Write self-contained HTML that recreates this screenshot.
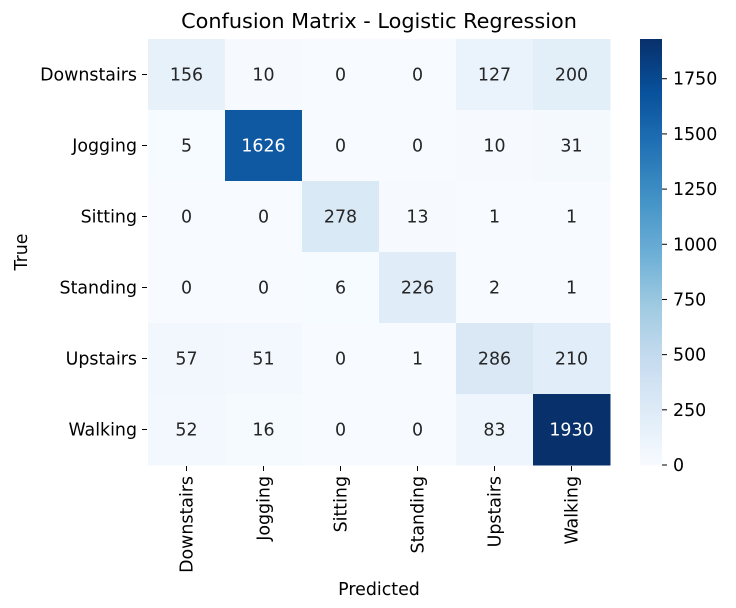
<!DOCTYPE html>
<html><head><meta charset="utf-8"><style>
body{margin:0;background:#fff;}
svg text{font-family:"DejaVu Sans","Liberation Sans",sans-serif;}
</style></head><body>
<svg id="chart" width="736" height="603" viewBox="0 0 736 603" xmlns="http://www.w3.org/2000/svg">
<text x="379" y="28" font-size="20.8" text-anchor="middle" fill="#000">Confusion Matrix - Logistic Regression</text>
<g id="cells"></g>
<g id="ylabels"></g>
<g id="xlabels"></g>
<defs><linearGradient id="cbgrad" x1="0" y1="1" x2="0" y2="0"></linearGradient></defs>
<rect x="640" y="39" width="22" height="426" fill="url(#cbgrad)"/>
<g id="cbticks"></g>
<text x="379" y="595" font-size="17.4" text-anchor="middle" fill="#000">Predicted</text>
<text x="27" y="252" font-size="17.4" text-anchor="middle" fill="#000" transform="rotate(-90 27 252)">True</text>
</svg>
<script>
const labels=["Downstairs","Jogging","Sitting","Standing","Upstairs","Walking"];
const row0=[156,10,0,0,127,200];
const row1=[5,1626,0,0,10,31];
const row2=[0,0,278,13,1,1];
const row3=[0,0,6,226,2,1];
const row4=[57,51,0,1,286,210];
const row5=[52,16,0,0,83,1930];
const cbTicks=[0,250,500,750,1000,1250,1500,1750];
const matrix=[row0,row1,row2,row3,row4,row5];
const NS="http://www.w3.org/2000/svg";
const L=148,T=39,W=462,H=426;
const vmax=Math.max(...matrix.flat()), vmin=Math.min(...matrix.flat());
const cw=W/labels.length, ch=H/labels.length;
const stops=["#f7fbff","#deebf7","#c6dbef","#9ecae1","#6baed6","#4292c6","#2171b5","#08519c","#08306b"];
function hex(h){return [1,3,5].map(i=>parseInt(h.substr(i,2),16));}
function color(v){let t=(v-vmin)/(vmax-vmin);t=Math.max(0,Math.min(1,t))*(stops.length-1);
 const i=Math.min(Math.floor(t),stops.length-2),f=t-i;const a=hex(stops[i]),b=hex(stops[i+1]);
 const c=a.map((x,k)=>Math.round(x+(b[k]-x)*f));return {css:`rgb(${c})`,lum:(0.299*c[0]+0.587*c[1]+0.114*c[2])/255};}
const xs=c=>L+c*cw, ys=r=>T+r*ch, cy=v=>T+H-(v-vmin)/(vmax-vmin)*H;
function mk(tag,attrs,parent,text){const e=document.createElementNS(NS,tag);for(const k in attrs)e.setAttribute(k,attrs[k]);if(text!==undefined)e.textContent=text;parent.appendChild(e);return e;}
const cells=document.getElementById('cells');
matrix.forEach((row,r)=>row.forEach((v,c)=>{
 const col=color(v);
 const rect=mk('rect',{x:xs(c),y:ys(r),width:cw+0.5,height:ch+0.5,fill:col.css},cells);
 
 
 const t=mk('text',{x:xs(c)+cw/2,y:ys(r)+ch/2+6,'font-size':17.4,'text-anchor':'middle',fill:col.lum<0.5?'#fff':'#262626'},cells,String(v));
 
 
}));
const yl=document.getElementById('ylabels'),xl=document.getElementById('xlabels');
labels.forEach((lab,i)=>{
 const y=ys(i)+ch/2;
 mk('line',{x1:L-6,x2:L-1,y1:y,y2:y,stroke:'#000'},yl);
 const t=mk('text',{x:L-11,y:y+6,'font-size':17.4,'text-anchor':'end',fill:'#000'},yl,lab);
 
 
 const x=xs(i)+cw/2;
 mk('line',{x1:x,x2:x,y1:T+H+1,y2:T+H+6,stroke:'#000'},xl);
 const tx=mk('text',{x:x+6,y:T+H+11,'font-size':17.4,'text-anchor':'end',fill:'#000',transform:`rotate(-90 ${x+6} ${T+H+11})`},xl,lab);
 
 
});
const g=document.getElementById('cbgrad');
stops.forEach((s,i)=>mk('stop',{offset:(i/(stops.length-1)),'stop-color':s},g));
const cbt=document.getElementById('cbticks');
cbTicks.forEach(v=>{
 const y=cy(v);
 mk('line',{x1:662,x2:667,y1:y,y2:y,stroke:'#000'},cbt);
 const t=mk('text',{x:673,y:y+6,'font-size':17.4,fill:'#000'},cbt,String(v));
 
 
});
</script>
</body></html>
